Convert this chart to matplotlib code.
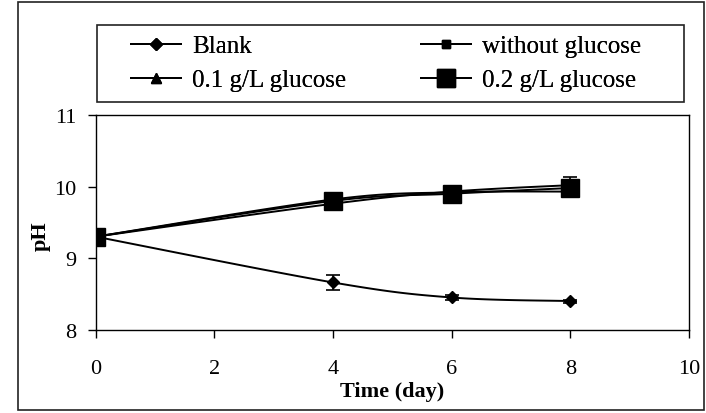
import numpy as np
import matplotlib
matplotlib.use("Agg")
import matplotlib.pyplot as plt
from matplotlib.patches import Rectangle

plt.rcParams['font.family'] = ['Liberation Serif', 'DejaVu Serif']

# Sampling days
days = [0, 4, 6, 8]

# pH readings and standard deviations for each condition
blank = [9.30, 8.66, 8.45, 8.40]
blank_err = [0.0, 0.11, 0.03, 0.02]
no_glucose = [9.30, 9.82, 9.92, 9.93]
no_glucose_err = [0.0, 0.03, 0.03, 0.03]
glucose_01 = [9.30, 9.76, 9.93, 10.02]
glucose_01_err = [0.0, 0.03, 0.04, 0.12]
glucose_02 = [9.30, 9.80, 9.90, 9.98]
glucose_02_err = [0.0, 0.04, 0.05, 0.05]

labels = ["Blank", "without glucose", "0.1 g/L glucose", "0.2 g/L glucose"]
x_ticks = [0, 2, 4, 6, 8, 10]
y_ticks = [8, 9, 10, 11]


def smooth(x, y, n=40):
    """Cubic Bezier smoothing through every point (spreadsheet-style)."""
    p = np.column_stack([x, y]).astype(float)
    ext = np.vstack([p[0], p, p[-1]])
    out = []
    t = np.linspace(0, 1, n)[:, None]
    for i in range(len(p) - 1):
        p0, p1 = ext[i + 1], ext[i + 2]
        c1 = p0 + (ext[i + 2] - ext[i]) / 6.0
        c2 = p1 - (ext[i + 3] - ext[i + 1]) / 6.0
        seg = ((1 - t) ** 3) * p0 + 3 * ((1 - t) ** 2) * t * c1 \
            + 3 * (1 - t) * t ** 2 * c2 + t ** 3 * p1
        out.append(seg if i == 0 else seg[1:])
    s = np.vstack(out)
    return s[:, 0], s[:, 1]


W, H = 706, 414
fig = plt.figure(figsize=(W / 100, H / 100), dpi=100)

# outer chart border
fig.add_artist(Rectangle((18 / W, 1 - 411 / H), (704 - 18) / W, (411 - 3) / H,
                         transform=fig.transFigure, fill=False,
                         edgecolor='#222222', lw=1.2))

ax = fig.add_axes([95.7 / W, 1 - 330.7 / H, (689 - 95.7) / W, (330.7 - 116) / H])

series = [
    (blank, blank_err, 'D', 6.5),
    (no_glucose, no_glucose_err, 's', 6),
    (glucose_01, glucose_01_err, '^', 7),
    (glucose_02, glucose_02_err, 's', 13),
]

handles = []
for (vals, err, mk, ms), lab in zip(series, labels):
    sx, sy = smooth(days, vals)
    ax.plot(sx, sy, color='black', lw=1.4, zorder=2)
    ax.errorbar(days, vals, yerr=err, fmt='none', ecolor='black',
                elinewidth=1.2, capsize=5, capthick=1.2, zorder=3)
    ax.plot(days, vals, linestyle='none', marker=mk, ms=ms,
            color='black', zorder=4)
    h, = ax.plot([], [], color='black', lw=1.4, marker=mk, ms=ms)
    handles.append(h)

ax.set_xlim(0, 10)
ax.set_ylim(8, 11)
ax.set_xticks(x_ticks)
ax.set_yticks(y_ticks)
ax.tick_params(axis='both', direction='out', length=6, width=1,
               labelsize=16, color='black')
ax.tick_params(axis='x', pad=15)
ax.tick_params(axis='y', pad=8)
for sp in ax.spines.values():
    sp.set_linewidth(1)
    sp.set_color('black')

ax.set_xlabel("Time (day)", fontsize=16, fontweight='bold', labelpad=2)
ax.set_ylabel("pH", fontsize=16, fontweight='bold', labelpad=5)
ax.yaxis.set_label_coords(-0.075, 0.44)

# legend box
fig.add_artist(Rectangle((97 / W, 1 - 103 / H), (684 - 97) / W, (103 - 26) / H,
                         transform=fig.transFigure, fill=False,
                         edgecolor='#222222', lw=1.2))

# one entry per slot: (series index, handle start x, row centre y) in pixels
slots = [(0, 131, 47), (1, 421, 47), (2, 131, 81), (3, 421, 81)]
for idx, px, py in slots:
    leg = fig.legend([handles[idx]], [labels[idx]], frameon=False,
                     fontsize=18, loc='center left',
                     bbox_to_anchor=(px / W, 1 - py / H),
                     borderpad=0, borderaxespad=0, handlelength=2.0,
                     handletextpad=0.45)
    fig.add_artist(leg)

fig.savefig("out.png", dpi=100)
